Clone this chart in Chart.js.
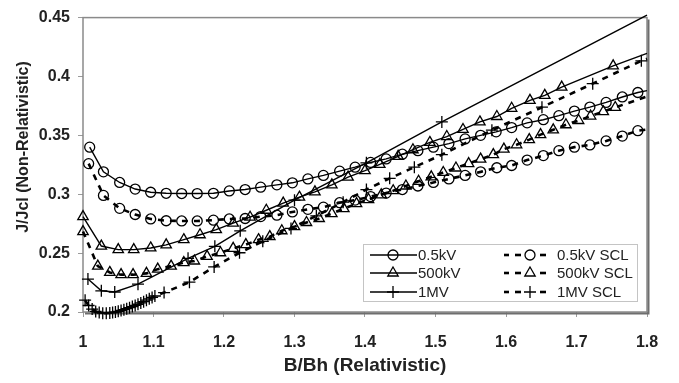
<!DOCTYPE html>
<html>
<head>
<meta charset="utf-8">
<script src="https://cdn.jsdelivr.net/npm/chart.js@4.4.0/dist/chart.umd.min.js"></script>
<style>
  html, body { margin: 0; padding: 0; background: #fff; }
</style>
</head>
<body>
<canvas id="lineChart" width="679" height="383"></canvas>
<script>
// values (B/Bh vs J/Jcl)
var xHalfKv = [1.0095, 1.029, 1.052, 1.074, 1.096, 1.118, 1.140, 1.162, 1.185, 1.2075, 1.230, 1.252, 1.275, 1.297, 1.319, 1.341, 1.364, 1.386, 1.408, 1.430, 1.453, 1.475, 1.497, 1.519, 1.542, 1.564, 1.586, 1.608, 1.630, 1.653, 1.675, 1.697, 1.719, 1.742, 1.765, 1.787, 1.8];
var yHalfKv = [0.340, 0.319, 0.310, 0.3044, 0.3017, 0.3008, 0.3006, 0.3006, 0.3008, 0.3028, 0.304, 0.306, 0.308, 0.3097, 0.313, 0.316, 0.3196, 0.323, 0.327, 0.330, 0.334, 0.337, 0.340, 0.343, 0.347, 0.350, 0.353, 0.3566, 0.3606, 0.3633, 0.3667, 0.3706, 0.374, 0.378, 0.3826, 0.3864, 0.388];

var x500kV = [1.0, 1.026, 1.050, 1.072, 1.096, 1.118, 1.143, 1.166, 1.189, 1.213, 1.237, 1.26, 1.284, 1.307, 1.329, 1.353, 1.376, 1.400, 1.421, 1.447, 1.468, 1.492, 1.516, 1.539, 1.563, 1.587, 1.608, 1.634, 1.655, 1.679, 1.752, 1.8];
var y500kV = [0.281, 0.256, 0.253, 0.253, 0.2544, 0.257, 0.2614, 0.2656, 0.270, 0.2755, 0.2805, 0.2864, 0.2925, 0.2975, 0.302, 0.308, 0.3145, 0.320, 0.3253, 0.3322, 0.3378, 0.344, 0.349, 0.355, 0.3614, 0.366, 0.373, 0.3797, 0.384, 0.391, 0.409, 0.4197];

var x1MV = [1.007, 1.026, 1.045, 1.078, 1.149, 1.187, 1.223, 1.300, 1.402, 1.509, 1.8];
var y1MV = [0.228, 0.218, 0.217, 0.2236, 0.2456, 0.2558, 0.2689, 0.295, 0.3267, 0.3614, 0.452];

var xHalfKvScl = [1.008, 1.029, 1.052, 1.074, 1.096, 1.118, 1.140, 1.162, 1.185, 1.2075, 1.230, 1.252, 1.275, 1.297, 1.319, 1.341, 1.364, 1.386, 1.408, 1.430, 1.453, 1.475, 1.497, 1.519, 1.542, 1.564, 1.587, 1.608, 1.630, 1.653, 1.675, 1.697, 1.719, 1.742, 1.765, 1.787, 1.8];
var yHalfKvScl = [0.326, 0.299, 0.288, 0.2828, 0.279, 0.2775, 0.2773, 0.2773, 0.278, 0.279, 0.2794, 0.281, 0.2822, 0.285, 0.2872, 0.289, 0.2928, 0.295, 0.298, 0.301, 0.304, 0.307, 0.310, 0.313, 0.316, 0.319, 0.3225, 0.3244, 0.329, 0.3328, 0.337, 0.340, 0.3419, 0.3453, 0.3494, 0.354, 0.355];

var x500kVScl = [1.0, 1.021, 1.038, 1.054, 1.071, 1.09, 1.106, 1.125, 1.143, 1.158, 1.176, 1.195, 1.213, 1.231, 1.249, 1.265, 1.282, 1.30, 1.317, 1.335, 1.353, 1.37, 1.388, 1.405, 1.423, 1.44, 1.458, 1.476, 1.494, 1.511, 1.529, 1.547, 1.564, 1.582, 1.597, 1.615, 1.633, 1.649, 1.667, 1.685, 1.703, 1.720, 1.738, 1.755, 1.8];
var y500kVScl = [0.2683, 0.239, 0.2336, 0.2317, 0.2317, 0.2328, 0.2364, 0.239, 0.242, 0.2433, 0.2472, 0.2503, 0.254, 0.2572, 0.2614, 0.264, 0.269, 0.2725, 0.276, 0.2794, 0.2836, 0.2878, 0.292, 0.2955, 0.2995, 0.303, 0.307, 0.311, 0.3148, 0.3185, 0.3223, 0.326, 0.3298, 0.3336, 0.3383, 0.342, 0.3464, 0.3506, 0.3547, 0.359, 0.3626, 0.3664, 0.3701, 0.3737, 0.383];

var x1MVScl = [1.003, 1.008, 1.013, 1.018, 1.023, 1.028, 1.033, 1.038, 1.042, 1.046, 1.050, 1.054, 1.058, 1.062, 1.066, 1.070, 1.074, 1.078, 1.082, 1.086, 1.090, 1.094, 1.098, 1.102, 1.115, 1.151, 1.186, 1.222, 1.255, 1.295, 1.331, 1.369, 1.402, 1.435, 1.47, 1.509, 1.58, 1.651, 1.723, 1.792, 1.8];
var y1MVScl = [0.210, 0.2055, 0.2025, 0.2005, 0.1995, 0.199, 0.199, 0.1992, 0.1995, 0.2, 0.2006, 0.2013, 0.202, 0.2028, 0.2037, 0.2046, 0.2056, 0.2066, 0.2077, 0.2088, 0.21, 0.2112, 0.2124, 0.2136, 0.2165, 0.2253, 0.2383, 0.2503, 0.26, 0.271, 0.2817, 0.2933, 0.304, 0.3135, 0.323, 0.3336, 0.3544, 0.3739, 0.3939, 0.4133, 0.415];

var seriesLabels = ['0.5kV', '500kV', '1MV', '0.5kV SCL', '500kV SCL', '1MV SCL'];
var xTitle = 'B/Bh (Relativistic)';
var yTitle = 'J/Jcl (Non-Relativistic)';

function toPoints(xs, ys) {
  return xs.map((x, i) => ({x: x, y: ys[i]}));
}

// last point of each series only carries the line to 1.8, no marker
function markerSize(r) {
  return function(ctx) {
    return ctx.dataIndex === ctx.dataset.data.length - 1 ? 0 : r;
  };
}

// 0.45 -> "0.45", 1.0 -> "1", 0.3 -> "0.3"
function shortNum(v) {
  return String(parseFloat(Number(v).toFixed(2)));
}

function makeSet(label, xs, ys, style, r, scl) {
  return {
    label: label,
    data: toPoints(xs, ys),
    showLine: true,
    borderColor: '#000',
    borderWidth: scl ? 2.6 : 1.4,
    borderDash: scl ? [6, 6] : [],
    tension: 0,
    pointStyle: style,
    pointRadius: markerSize(r),
    pointHoverRadius: markerSize(r),
    pointBorderColor: '#000',
    pointBackgroundColor: 'rgba(0,0,0,0)',
    pointBorderWidth: 1.3,
    clip: false
  };
}

var datasets = [
  makeSet(seriesLabels[0], xHalfKv, yHalfKv, 'circle', 5, false),
  makeSet(seriesLabels[1], x500kV, y500kV, 'triangle', 6, false),
  makeSet(seriesLabels[2], x1MV, y1MV, 'cross', 6, false),
  makeSet(seriesLabels[3], xHalfKvScl, yHalfKvScl, 'circle', 5, true),
  makeSet(seriesLabels[4], x500kVScl, y500kVScl, 'triangle', 6, true),
  makeSet(seriesLabels[5], x1MVScl, y1MVScl, 'cross', 6, true)
];

var framePlugin = {
  id: 'frame',
  beforeDatasetsDraw: function(chart) {
    var ctx = chart.ctx, a = chart.chartArea;
    ctx.save();
    ctx.strokeStyle = '#8a8a8a';
    ctx.lineWidth = 1.5;
    ctx.strokeRect(a.left, a.top, a.right - a.left, a.bottom - a.top);
    ctx.strokeStyle = '#6e6e6e';
    ctx.lineWidth = 2;
    ctx.beginPath();
    ctx.moveTo(a.right + 1.5, a.top + 2);
    ctx.lineTo(a.right + 1.5, a.bottom + 1.5);
    ctx.lineTo(a.left + 2, a.bottom + 1.5);
    ctx.stroke();
    ctx.restore();
  },
  afterDraw: function(chart) {
    var ctx = chart.ctx, a = chart.chartArea;
    ctx.save();
    // axis titles
    ctx.fillStyle = '#222';
    ctx.textAlign = 'center';
    ctx.textBaseline = 'middle';
    ctx.font = 'bold 19px "Liberation Sans", Arial, sans-serif';
    ctx.fillText(xTitle, (a.left + a.right) / 2, 366);
    ctx.translate(24, 147);
    ctx.rotate(-Math.PI / 2);
    ctx.font = 'bold 16px "Liberation Sans", Arial, sans-serif';
    ctx.fillText(yTitle, 0, 0);
    ctx.restore();

    // legend box
    ctx.save();
    ctx.fillStyle = '#fff';
    ctx.fillRect(363, 244, 274, 57);
    ctx.strokeStyle = '#c4c4c4';
    ctx.lineWidth = 1;
    ctx.strokeRect(363.5, 244.5, 274, 57);
    var rows = [255, 273, 292];
    ctx.font = '15px "Liberation Sans", Arial, sans-serif';
    ctx.textBaseline = 'middle';
    ctx.textAlign = 'left';
    chart.data.datasets.forEach(function(ds, i) {
      var y = rows[i % 3];
      ctx.strokeStyle = '#000';
      ctx.fillStyle = 'rgba(0,0,0,0)';
      var r = ds.pointStyle === 'circle' ? 5 : 6;
      if (i < 3) {
        ctx.lineWidth = 1.4;
        ctx.beginPath();
        ctx.moveTo(370, y);
        ctx.lineTo(417, y);
        ctx.stroke();
        ctx.lineWidth = 1.3;
        Chart.helpers.drawPoint(ctx, {pointStyle: ds.pointStyle, radius: r, borderWidth: 1.3, rotation: 0}, 393, y);
        ctx.fillStyle = '#222';
        ctx.fillText(ds.label, 418, y + 1);
      } else {
        ctx.lineWidth = 2.6;
        [[504, 509], [515, 521], [540, 546]].forEach(function(d) {
          ctx.beginPath();
          ctx.moveTo(d[0], y);
          ctx.lineTo(d[1], y);
          ctx.stroke();
        });
        ctx.lineWidth = 1.3;
        Chart.helpers.drawPoint(ctx, {pointStyle: ds.pointStyle, radius: r, borderWidth: 1.3, rotation: 0}, 530, y);
        ctx.fillStyle = '#222';
        ctx.fillText(ds.label, 557, y + 1);
      }
    });
    ctx.restore();
  }
};

var ctx = document.getElementById('lineChart');
var lineChart = new Chart(ctx, {
  type: 'scatter',
  data: { datasets: datasets },
  plugins: [framePlugin],
  options: {
    responsive: false,
    devicePixelRatio: 1,
    animation: false,
    layout: { padding: { left: 0, top: 12, right: 32, bottom: 0 } },
    plugins: {
      legend: { display: false },
      tooltip: { enabled: false }
    },
    scales: {
      x: {
        type: 'linear',
        min: 1,
        max: 1.8,
        afterFit: function(scale) { scale.height = 71; },
        ticks: {
          stepSize: 0.1,
          padding: 16,
          color: '#222',
          callback: shortNum,
          font: { family: '"Liberation Sans", Arial, sans-serif', size: 16, weight: 'bold' }
        },
        grid: { drawOnChartArea: false, tickLength: 5, color: '#9a9a9a' },
        border: { display: false }
      },
      y: {
        type: 'linear',
        min: 0.2,
        max: 0.45,
        afterFit: function(scale) { scale.width = 83; },
        ticks: {
          stepSize: 0.05,
          padding: 8,
          color: '#222',
          callback: shortNum,
          font: { family: '"Liberation Sans", Arial, sans-serif', size: 16, weight: 'bold' }
        },
        grid: { drawOnChartArea: false, tickLength: 5, color: '#9a9a9a' },
        border: { display: false }
      }
    }
  }
});
</script>
</body>
</html>
